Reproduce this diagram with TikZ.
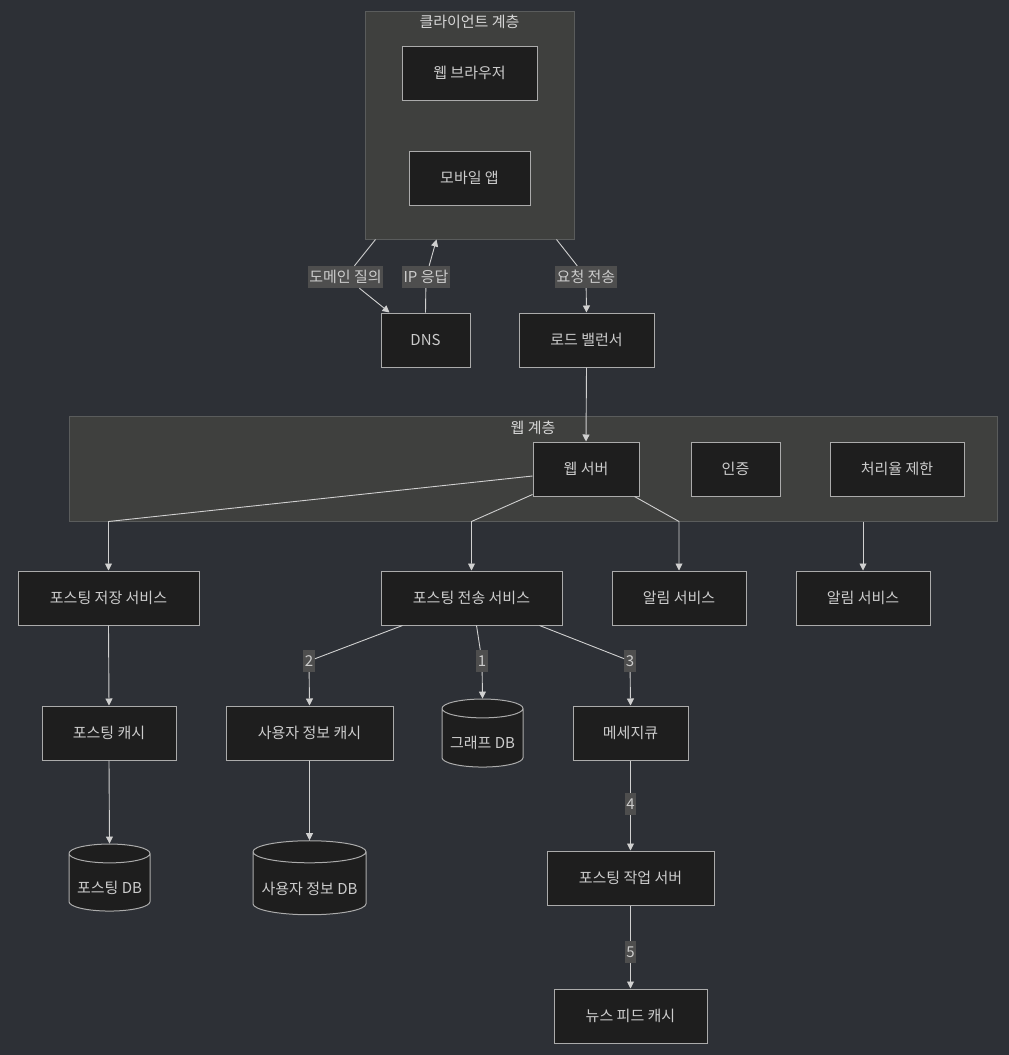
\documentclass[tikz,border=0pt]{standalone}
\usepackage{fontspec}
\setmainfont{Noto Sans CJK KR}
\usetikzlibrary{arrows.meta,positioning,shapes.geometric}

\definecolor{bgc}{HTML}{2D3036}
\definecolor{clusterfill}{HTML}{3F403E}
\definecolor{clusterline}{HTML}{5A5C5C}
\definecolor{nodefill}{HTML}{1E1E1E}
\definecolor{nodeline}{HTML}{ABABAB}
\definecolor{textc}{HTML}{CCCCCC}
\definecolor{edgec}{HTML}{D0D0D0}
\definecolor{labelfill}{HTML}{4E4E4E}

\begin{document}
\begin{tikzpicture}[
  x=1pt, y=-1pt,
  font=\fontsize{15}{18}\selectfont,
  box/.style={draw=nodeline, fill=nodefill, text=textc, line width=1pt, minimum height=54pt, inner sep=0pt, align=center},
  db/.style={cylinder, shape border rotate=90, aspect=0.29, draw=nodeline, fill=nodefill, text=textc, line width=1pt, inner sep=0pt},
  outer/.style={draw=clusterline, fill=clusterfill, line width=1pt, inner sep=0pt},
  title/.style={text=textc!80!white},
  elabel/.style={fill=labelfill, text=textc, inner xsep=1.5pt, inner ysep=2pt, minimum height=22pt},
  line/.style={draw=edgec, line width=0.9pt},
  arr/.style={line, -{Triangle[length=7pt, width=7pt]}}
]
  \useasboundingbox (0,0) rectangle (1009,1055);
  \fill[bgc] (0,0) rectangle (1009,1055);

  % Client layer
  \node[outer, minimum width=209pt, minimum height=228pt] (client) at (469.5,125) {};
  \node[title] (clienttitle) at ([yshift=-11pt]client.north) {클라이언트 계층};
  \node[box, minimum width=135pt] (browser) at (469.5,73) {웹 브라우저};
  \node[box, minimum width=121pt, below=50pt of browser] (mobile) {모바일 앱};

  % DNS and load balancer
  \node[box, minimum width=89pt] (dns) at (425.5,340) {DNS};
  \node[box, minimum width=135pt] (lb) at (586.5,340) {로드 밸런서};

  % Web layer
  \node[outer, minimum width=928pt, minimum height=105pt] (webtier) at (533,468.5) {};
  \node[title] (webtitle) at ([yshift=-12pt]webtier.north) {웹 계층};
  \node[box, minimum width=106pt] (websrv) at (586,469) {웹 서버};
  \node[box, minimum width=89pt, right=51pt of websrv] (auth) {인증};
  \node[box, minimum width=134pt, right=49pt of auth] (ratelimit) {처리율 제한};

  % Services
  \node[box, minimum width=181pt] (store) at (108.5,598) {포스팅 저장 서비스};
  \node[box, minimum width=181pt] (fanout) at (471.5,598) {포스팅 전송 서비스};
  \node[box, minimum width=134pt] (notify) at (679,598) {알림 서비스};
  \node[box, minimum width=134pt] (notifyb) at (863,598) {알림 서비스};

  % Caches, stores and workers
  \node[box, minimum width=134pt] (postcache) at (109,733) {포스팅 캐시};
  \node[box, minimum width=167pt] (usercache) at (309.5,733) {사용자 정보 캐시};
  \node[db, minimum width=81pt, minimum height=68pt] (graphdb) at (482.5,738) {\raisebox{-5pt}[\height][\depth]{그래프 DB}};
  \node[box, minimum width=115pt] (mq) at (630.5,733) {메세지큐};
  \node[db, minimum width=81pt, minimum height=67pt] (postdb) at (109.5,882.5) {\raisebox{-5pt}[\height][\depth]{포스팅 DB}};
  \node[db, aspect=0.23, minimum width=113pt, minimum height=74pt] (userdb) at (309.5,883.5) {\raisebox{-5pt}[\height][\depth]{사용자 정보 DB}};
  \node[box, minimum width=167pt] (worker) at (630.5,878) {포스팅 작업 서버};
  \node[box, minimum width=153pt] (feedcache) at (630.5,1016) {뉴스 피드 캐시};

  % Edge labels
  \node[elabel] (qlabel) at (345.5,277) {도메인 질의};
  \node[elabel] (alabel) at (426,277) {IP 응답};
  \node[elabel] (rlabel) at (586,277) {요청 전송};
  \node[elabel] (ltwo) at (309,661) {2};
  \node[elabel] (lone) at (482,661) {1};
  \node[elabel] (lthree) at (630,661) {3};
  \node[elabel] (lfour) at (630.5,804) {4};
  \node[elabel] (lfive) at (630.5,952) {5};

  % Client flows
  \draw[line] ([xshift=11pt]client.south west) -- (qlabel);
  \draw[arr] (qlabel) -- ([xshift=9pt]dns.north west);
  \draw[line] (dns.north) -- (alabel);
  \draw[arr] (alabel) -- ([xshift=72pt]client.south west);
  \draw[line] ([xshift=192pt]client.south west) -- (rlabel);
  \draw[arr] (rlabel) -- (lb.north);
  \draw[arr] (lb.south) -- (websrv.north);

  % Web layer fan out
  \draw[arr] ([yshift=-7pt]websrv.west) -- (store.north |- webtier.south) -- (store.north);
  \draw[arr] ([yshift=2pt]websrv.south west) -- (fanout.north |- webtier.south) -- (fanout.north);
  \draw[arr] ([xshift=-5pt]websrv.south east) -- (notify.north |- webtier.south) -- (notify.north);
  \draw[arr] (notifyb.north |- webtier.south) -- (notifyb.north);

  % Storage path
  \draw[arr] (store.south) -- (postcache.north);
  \draw[arr] (postcache.south) -- (postdb.north);

  % Fanout path
  \draw[line] ([xshift=22pt]fanout.south west) -- (ltwo);
  \draw[arr] (ltwo) -- (usercache.north);
  \draw[line] ([xshift=5pt]fanout.south) -- (lone);
  \draw[arr] (lone) -- (graphdb.north);
  \draw[line] ([xshift=-23pt]fanout.south east) -- (lthree);
  \draw[arr] (lthree) -- (mq.north);
  \draw[arr] (usercache.south) -- (userdb.north);
  \draw[line] (mq.south) -- (lfour);
  \draw[arr] (lfour) -- (worker.north);
  \draw[line] (worker.south) -- (lfive);
  \draw[arr] (lfive) -- (feedcache.north);
\end{tikzpicture}
\end{document}
